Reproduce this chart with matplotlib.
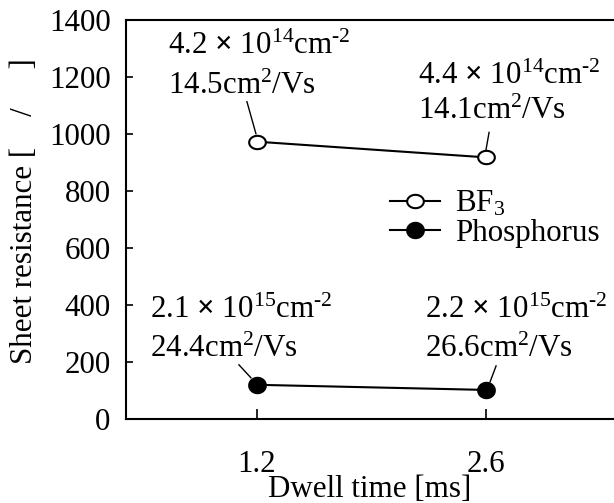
import matplotlib
matplotlib.use("Agg")
import matplotlib.pyplot as plt
import numpy as np
from matplotlib.path import Path
import matplotlib.transforms as mtransforms

plt.rcParams['font.family'] = ['Liberation Serif', 'DejaVu Serif']
plt.rcParams['mathtext.fontset'] = 'custom'
plt.rcParams['mathtext.rm'] = 'Liberation Serif'
plt.rcParams['mathtext.it'] = 'Liberation Serif:italic'
plt.rcParams['mathtext.bf'] = 'Liberation Serif:bold'

# ---- data ----
dwell_time = [1.2, 2.6]
bf3_resistance = [973, 918]
phos_resistance = [120, 102]
bf3_labels = [("4.2 $\\mathbf{\\times}$ 10$^{14}$cm$^{\\text{-2}}$", "14.5cm$^{2}$/Vs"),
              ("4.4 $\\mathbf{\\times}$ 10$^{14}$cm$^{\\text{-2}}$", "14.1cm$^{2}$/Vs")]
phos_labels = [("2.1 $\\mathbf{\\times}$ 10$^{15}$cm$^{\\text{-2}}$", "24.4cm$^{2}$/Vs"),
               ("2.2 $\\mathbf{\\times}$ 10$^{15}$cm$^{\\text{-2}}$", "26.6cm$^{2}$/Vs")]
yticks = [0, 200, 400, 600, 800, 1000, 1200, 1400]
series_names = ["BF$_3$", "Phosphorus"]

W, H = 614, 503
fig = plt.figure(figsize=(W / 100, H / 100), dpi=100)
ax = fig.add_axes([126 / W, 1 - 419 / H, (617 - 126) / W, (419 - 20) / H])

def ellipse(aspect):
    t = np.linspace(0, 2 * np.pi, 60)
    verts = np.column_stack([np.cos(t), aspect * np.sin(t)])
    return Path(verts, closed=True)

m_open = ellipse(0.8)
m_fill = ellipse(0.92)

ax.plot(dwell_time, bf3_resistance, color='black', lw=1.5, marker=m_open,
        markersize=12, markerfacecolor='white', markeredgecolor='black',
        markeredgewidth=1.5, label=series_names[0], zorder=3)
ax.plot(dwell_time, phos_resistance, color='black', lw=1.5, marker=m_fill,
        markersize=12, markerfacecolor='black', markeredgecolor='black',
        markeredgewidth=1.5, label=series_names[1], zorder=3)

fs = 22.3

ax.set_xlim(0.4, 3.4)
ax.set_ylim(0, 1400)
ax.set_xticks(dwell_time)
ax.set_xticklabels([str(v) for v in dwell_time])
ax.set_yticks(yticks)
ax.tick_params(axis='both', direction='in', labelsize=fs, width=1.2)
ax.tick_params(axis='x', length=7, pad=22)
ax.tick_params(axis='y', length=5, pad=11)
for s in ['left', 'bottom', 'top']:
    ax.spines[s].set_linewidth(1.5)
ax.spines['right'].set_visible(False)


def leader(x, y, p0, p1):
    base = ax.transData
    off0 = mtransforms.offset_copy(base, fig=fig, x=p0[0], y=p0[1], units='dots')
    off1 = mtransforms.offset_copy(base, fig=fig, x=p1[0], y=p1[1], units='dots')
    a = off0.transform((x, y))
    b = off1.transform((x, y))
    inv = fig.transFigure.inverted()
    a = inv.transform(a); b = inv.transform(b)
    fig.add_artist(plt.Line2D([a[0], b[0]], [a[1], b[1]], color='black', lw=1.0,
                              transform=fig.transFigure))

def text_pair(x, y, lines, off, dy):
    ax.annotate(lines[0], xy=(x, y), xytext=off, textcoords='offset pixels',
                fontsize=fs, ha='left', va='baseline')
    ax.annotate(lines[1], xy=(x, y), xytext=(off[0], off[1] - dy),
                textcoords='offset pixels', fontsize=fs, ha='left', va='baseline')

# BF3 annotations
text_pair(dwell_time[0], bf3_resistance[0], bf3_labels[0], (-89, 88), 40)
leader(dwell_time[0], bf3_resistance[0], (-10, 40), (-1, 8))
text_pair(dwell_time[1], bf3_resistance[1], bf3_labels[1], (-68, 73), 35)
leader(dwell_time[1], bf3_resistance[1], (3, 25), (0, 8))
# Phosphorus annotations
text_pair(dwell_time[0], phos_resistance[0], phos_labels[0], (-107, 67), 39)
leader(dwell_time[0], phos_resistance[0], (-18, 20), (-6, 7))
text_pair(dwell_time[1], phos_resistance[1], phos_labels[1], (-61, 72), 39)
leader(dwell_time[1], phos_resistance[1], (10, 24), (4, 8))

leg = ax.legend(loc='upper left', bbox_to_anchor=(390 / W, 1 - 189 / H),
                bbox_transform=fig.transFigure, frameon=False, fontsize=fs,
                handlelength=1.6, handletextpad=0.5, labelspacing=0.0,
                borderpad=0, borderaxespad=0)

fig.text(370 / W, 1 - 497 / H, "Dwell time [ms]", fontsize=fs, ha='center', va='baseline')
fig.text(25 / W, 1 - 211 / H, "Sheet resistance [    /     ]", fontsize=fs,
         rotation=90, ha='center', va='center')

fig.savefig("out.png", dpi=100)
